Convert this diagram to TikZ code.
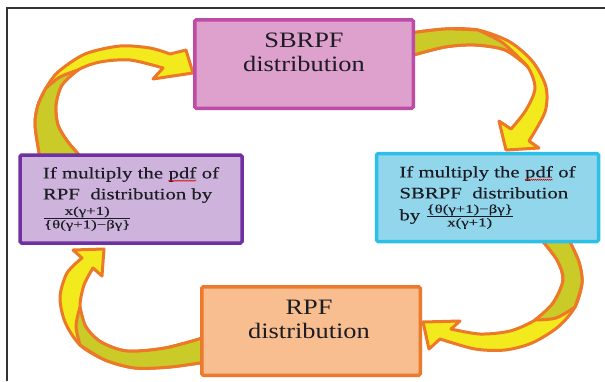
\documentclass[tikz,border=0pt]{standalone}
\usepackage{fontspec}
\setmainfont{Liberation Serif}
\newfontfamily\boxfont[FakeStretch=1.2]{Liberation Serif}
\newfontfamily\rulefont[FakeStretch=1.3,FakeBold=0.3]{Liberation Serif}
\newfontfamily\fracfont[FakeStretch=1.4,FakeBold=0.2]{Liberation Serif}
\usetikzlibrary{decorations.pathmorphing,calc}

\definecolor{sbfill}{RGB}{222,160,204}
\definecolor{sbline}{RGB}{190,75,165}
\definecolor{lfill}{RGB}{206,180,220}
\definecolor{lline}{RGB}{112,48,160}
\definecolor{rfill}{RGB}{146,214,236}
\definecolor{rline}{RGB}{44,192,232}
\definecolor{pfill}{RGB}{248,190,144}
\definecolor{pline}{RGB}{236,122,44}
\definecolor{arrfront}{RGB}{242,234,28}
\definecolor{arrback}{RGB}{202,202,40}
\definecolor{arrline}{RGB}{236,120,40}
\definecolor{ink}{RGB}{28,28,36}
\definecolor{framecol}{RGB}{50,50,50}

% fraction set in upright text
\newcommand\ratio[2]{\ensuremath{\frac{\hbox{\fracfont\fontsize{12}{13}\selectfont #1}}{\hbox{\fracfont\fontsize{12}{13}\selectfont #2}}}}
% word with a red wavy underline
\newcommand\spellmark[1]{\tikz[baseline=(sw.base),x=1pt,y=1pt]{%
  \node[inner sep=0pt,outer sep=0pt,draw=none,fill=none,minimum width=0pt,minimum height=0pt,text=ink] (sw) {#1};
  \draw[red!85!black,line width=0.5pt,sharp corners,decorate,decoration={zigzag,amplitude=0.6pt,segment length=2pt}]
    ([yshift=-2.4pt]sw.base west) -- ([yshift=-2.4pt]sw.base east);}}

\pgfdeclarelayer{back}
\pgfsetlayers{back,main}

\tikzset{
  box/.style={draw,line width=3.5pt,rounded corners=1.5pt,inner sep=0pt,outer sep=0pt,text=ink},
  bigbox/.style={box,minimum width=218.5pt,minimum height=88.5pt},
  rulebox/.style={box,minimum width=222pt,minimum height=88pt,align=left,
    font=\rulefont\fontsize{16}{21}\selectfont},
  biglabel/.style={align=center,inner sep=0pt,text=ink,font=\boxfont\fontsize{22}{24}\selectfont},
  front/.style={fill=arrfront,draw=arrline,line width=3pt,line join=round},
  rear/.style={fill=arrback,draw=arrline,line width=3pt,line join=round},
  frame/.style={draw=framecol,line width=1.6pt}
}

\begin{document}
\begin{tikzpicture}[x=1pt,y=-1pt]
\useasboundingbox (0,0) rectangle (605,381);

% outer frame (left and top edges)
\draw[frame] (7,381) -- (7,8) -- (605,8);

% boxes
\node[bigbox,draw=sbline,fill=sbfill] (sbrpf) at (304,64) {};
\node[biglabel] (sbrpf-label) at (304,52) {SBRPF\\distribution};

\node[bigbox,draw=pline,fill=pfill] (rpf) at (311,331) {};
\node[biglabel] (rpf-label) at (309,319) {RPF\\distribution};

\node[rulebox,draw=lline,fill=lfill] (torpf) at (131,199)
  {If multiply the \spellmark{pdf} of\\RPF~ distribution by\\[2pt]\ratio{x(γ+1)}{\{θ(γ+1)−βγ\}}};

\node[rulebox,draw=rline,fill=rfill] (tosbrpf) at (487.5,197.5)
  {If multiply the \spellmark{pdf} of\\SBRPF~ distribution\\[1pt]by \ratio{\{θ(γ+1)−βγ\}}{x(γ+1)}};

% curved block arrows, drawn beneath the boxes
\begin{pgfonlayer}{back}
% left box -> SBRPF
\filldraw[front] (40,158) -- plot[smooth] coordinates {(40,158) (35,125) (38,105) (46,88) (58,72) (85,54) (120,46) (150,48) (170,54)}
  -- (186,50) -- (193,73) -- (153,79) -- (163,68)
  -- plot[smooth] coordinates {(163,68) (130,60) (100,62) (78,70) (62,85) (56,105) (58,125) (68,142) (82,158)} -- cycle;
\filldraw[rear] (40,158) -- plot[smooth] coordinates {(40,158) (35,125) (38,105) (46,88)}
  -- plot[smooth] coordinates {(46,88) (60,77) (78,70)}
  -- plot[smooth] coordinates {(78,70) (62,85) (56,105) (58,125) (68,142) (82,158)} -- cycle;

% SBRPF -> right box
\filldraw[front] (410,33) -- plot[smooth] coordinates {(410,33) (445,29) (478,30) (510,42) (533,62) (546,87) (545,112) (529,141)}
  -- (539,148) -- (506,150) -- (499,121) -- (511,129)
  -- plot[smooth] coordinates {(511,129) (526,110) (535,88) (527,66) (505,50) (475,45) (445,47) (410,56)} -- cycle;
\filldraw[rear] (410,33) -- plot[smooth] coordinates {(410,33) (445,29) (478,30)}
  -- plot[smooth] coordinates {(478,30) (503,43) (527,66)}
  -- plot[smooth] coordinates {(527,66) (505,50) (475,45) (445,47) (410,56)} -- cycle;

% right box -> RPF
\filldraw[front] (568,238) -- plot[smooth] coordinates {(568,238) (579,262) (582,283) (575,307) (558,327) (532,343) (505,350) (475,349) (440,339)}
  -- (429,349) -- (423,322) -- (460,321) -- (451,329)
  -- plot[smooth] coordinates {(451,329) (480,334) (510,331) (535,320) (553,303) (563,280) (557,260) (540,238)} -- cycle;
\filldraw[rear] (568,238) -- plot[smooth] coordinates {(568,238) (579,262) (582,283) (575,307)}
  -- plot[smooth] coordinates {(575,307) (556,318) (535,320)}
  -- plot[smooth] coordinates {(535,320) (553,303) (563,280) (557,260) (540,238)} -- cycle;

% RPF -> left box
\filldraw[front] (206,362) -- plot[smooth] coordinates {(206,362) (170,367) (135,368) (105,360) (80,345) (65,322) (60,297) (67,273) (82,258)}
  -- (73,250) -- (104,249) -- (102,276) -- (93,268)
  -- plot[smooth] coordinates {(93,268) (84,285) (80,307) (86,327) (101,342) (127,351) (165,348) (206,337)} -- cycle;
\filldraw[rear] (206,362) -- plot[smooth] coordinates {(206,362) (170,367) (135,368) (105,360) (80,345)}
  -- plot[smooth] coordinates {(80,345) (76,326) (80,307)}
  -- plot[smooth] coordinates {(80,307) (86,327) (101,342) (127,351) (165,348) (206,337)} -- cycle;
\end{pgfonlayer}
\end{tikzpicture}
\end{document}
